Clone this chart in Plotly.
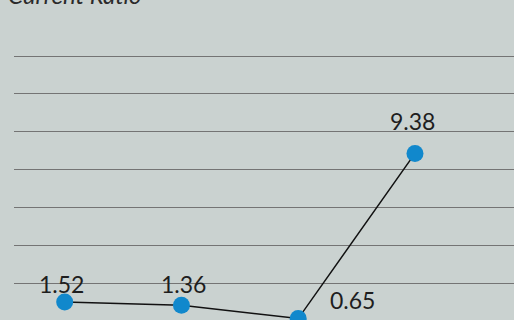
import plotly.graph_objects as go

# Data
periods = [1, 2, 3, 4]
current_ratio = [1.52, 1.36, 0.65, 9.38]
labels = ["1.52", "1.36", "0.65", "9.38"]
title_text = "Current Ratio"

# label offsets in pixels (style)
label_dx = [-3, 2, 54, -2]
label_dy = [18, 21, 19, 32]

font_family = "Lato, Carlito, sans-serif"

fig = go.Figure()
fig.add_trace(go.Scatter(
    x=periods, y=current_ratio,
    mode="lines+markers",
    line=dict(color="#111111", width=1.5),
    marker=dict(color="#1188cc", size=17),
    cliponaxis=True,
    hoverinfo="skip",
))

annotations = []
for xv, yv, txt, dx, dy in zip(periods, current_ratio, labels, label_dx, label_dy):
    annotations.append(dict(
        x=xv, y=yv, text=txt, xref="x", yref="y", showarrow=False,
        xanchor="center", yanchor="middle", xshift=dx, yshift=dy,
        font=dict(family=font_family, size=23, color="#1e1e1e"),
    ))
annotations.append(dict(
    text="<i>" + title_text + "</i>", xref="paper", yref="paper", x=0, y=1.222,
    xanchor="left", yanchor="middle", xshift=-8, showarrow=False,
    font=dict(family=font_family, size=24, color="#2a2a2a"),
))

fig.update_layout(
    width=514, height=320,
    margin=dict(l=14, r=0, t=54, b=0),
    paper_bgcolor="#cad2d0",
    plot_bgcolor="rgba(0,0,0,0)",
    showlegend=False,
    xaxis=dict(range=[0.566, 4.848], visible=False, showgrid=False, zeroline=False),
    yaxis=dict(range=[0.5745, 14.634], tick0=0.528, dtick=2, showgrid=True,
               gridcolor="#747474", gridwidth=1.2, zeroline=False,
               showticklabels=False, ticks="", showline=False),
    annotations=annotations,
)

fig.write_html("out.html")
